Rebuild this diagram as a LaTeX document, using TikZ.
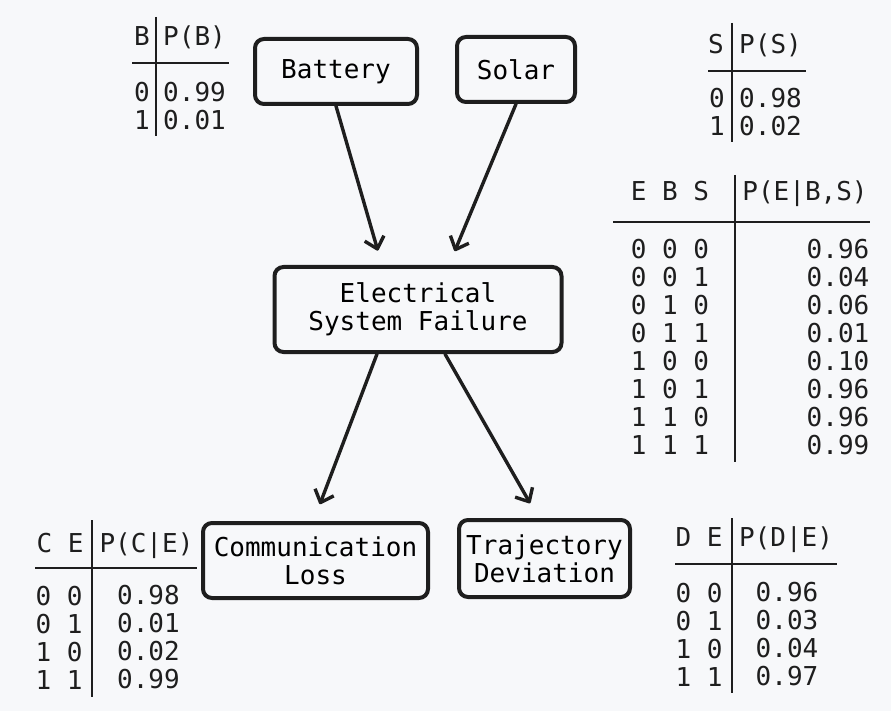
\documentclass[tikz,border=0pt]{standalone}
\usepackage{fontspec}
\setmonofont{DejaVu Sans Mono}
\usetikzlibrary{arrows.meta}
\definecolor{paper}{RGB}{247,248,250}
\definecolor{ink}{RGB}{30,30,30}
\begin{document}
\begin{tikzpicture}[x=1pt, y=-1pt,
                    main/.style = {draw=ink, line width=4pt, rounded corners=9pt, fill=paper, align=center, inner sep=0pt, font=\ttfamily\fontsize{26}{28}\selectfont},
                    cell/.style = {inner sep=0pt, text=ink, font=\ttfamily\fontsize{26}{28}\selectfont},
                    rule/.style = {draw=ink, line width=2.4pt},
                    link/.style = {draw=ink, line width=3.4pt, line cap=round, -{Straight Barb[length=11pt,width=20pt,line join=round]}}]
                    \fill[paper] (0,0) rectangle (891,711);
                    \useasboundingbox (0,0) rectangle (891,711);

                    % network
                    \node[main, minimum width=162pt, minimum height=65pt] (bat) at (336,71.5) {Battery};
                    \node[main, minimum width=118pt, minimum height=65pt] (sol) at (516,69.5) {Solar};
                    \node[main, minimum width=287pt, minimum height=85pt] (elec) at (418,309.5) {Electrical\\System Failure};
                    \node[main, minimum width=225pt, minimum height=75pt] (comm) at (315.5,560.5) {Communication\\Loss};
                    \node[main, minimum width=171pt, minimum height=77pt] (traj) at (544.5,558.5) {Trajectory\\Deviation};

                    \draw[link, shorten >=15pt] (bat.south) -- ([xshift=-36pt]elec.north);
                    \draw[link, shorten >=15pt] (sol.south) -- ([xshift=31pt]elec.north);
                    \draw[link, shorten >=18pt] ([xshift=-41pt]elec.south) -- ([xshift=-2pt]comm.north);
                    \draw[link, shorten >=17pt] ([xshift=27pt]elec.south) -- ([xshift=-6pt]traj.north);

                    % P(B)
                    \node[cell, anchor=base] (bvar) at (142,46) {B};
                    \node[cell, anchor=base west] (bhead) at (163,46) {P(B)};
                    \node[cell, align=center] (bval) at (142,106) {0\\1};
                    \node[cell, anchor=west, align=left] (bprob) at (163,106) {0.99\\0.01};
                    \draw[rule] (156,17) -- (156,136);
                    \draw[rule] (132,63) -- (229,63);

                    % P(S)
                    \node[cell, anchor=base] (svar) at (716,54) {S};
                    \node[cell, anchor=base west] (shead) at (739,54) {P(S)};
                    \node[cell, align=center] (sval) at (717,112) {0\\1};
                    \node[cell, anchor=west, align=left] (sprob) at (739,112) {0.98\\0.02};
                    \draw[rule] (732,23) -- (732,142);
                    \draw[rule] (708,71) -- (806,71);

                    % P(E|B,S)
                    \node[cell, anchor=base] (evar) at (670,201) {E B S};
                    \node[cell, anchor=base] (ehead) at (805,201) {P(E|B,S)};
                    \node[cell, align=center] (eval) at (670,347) {0 0 0\\0 0 1\\0 1 0\\0 1 1\\1 0 0\\1 0 1\\1 1 0\\1 1 1};
                    \node[cell, anchor=east, align=right] (eprob) at (869.5,347) {0.96\\0.04\\0.06\\0.01\\0.10\\0.96\\0.96\\0.99};
                    \draw[rule] (735,175) -- (735,462);
                    \draw[rule] (613,222) -- (870,222);

                    % P(C|E)
                    \node[cell, anchor=base] (cvar) at (60,552) {C E};
                    \node[cell, anchor=base] (chead) at (146.5,552) {P(C|E)};
                    \node[cell, align=center] (cval) at (59,637.5) {0 0\\0 1\\1 0\\1 1};
                    \node[cell, align=center] (cprob) at (148.5,637.5) {0.98\\0.01\\0.02\\0.99};
                    \draw[rule] (92,520) -- (92,697);
                    \draw[rule] (35,568) -- (197,568);

                    % P(D|E)
                    \node[cell, anchor=base] (dvar) at (699,546) {D E};
                    \node[cell, anchor=base] (dhead) at (786,546) {P(D|E)};
                    \node[cell, align=center] (dval) at (699,634.5) {0 0\\0 1\\1 0\\1 1};
                    \node[cell, align=center] (dprob) at (787,634.5) {0.96\\0.03\\0.04\\0.97};
                    \draw[rule] (732,518) -- (732,693);
                    \draw[rule] (675,564) -- (837,564);
                \end{tikzpicture}
\end{document}
